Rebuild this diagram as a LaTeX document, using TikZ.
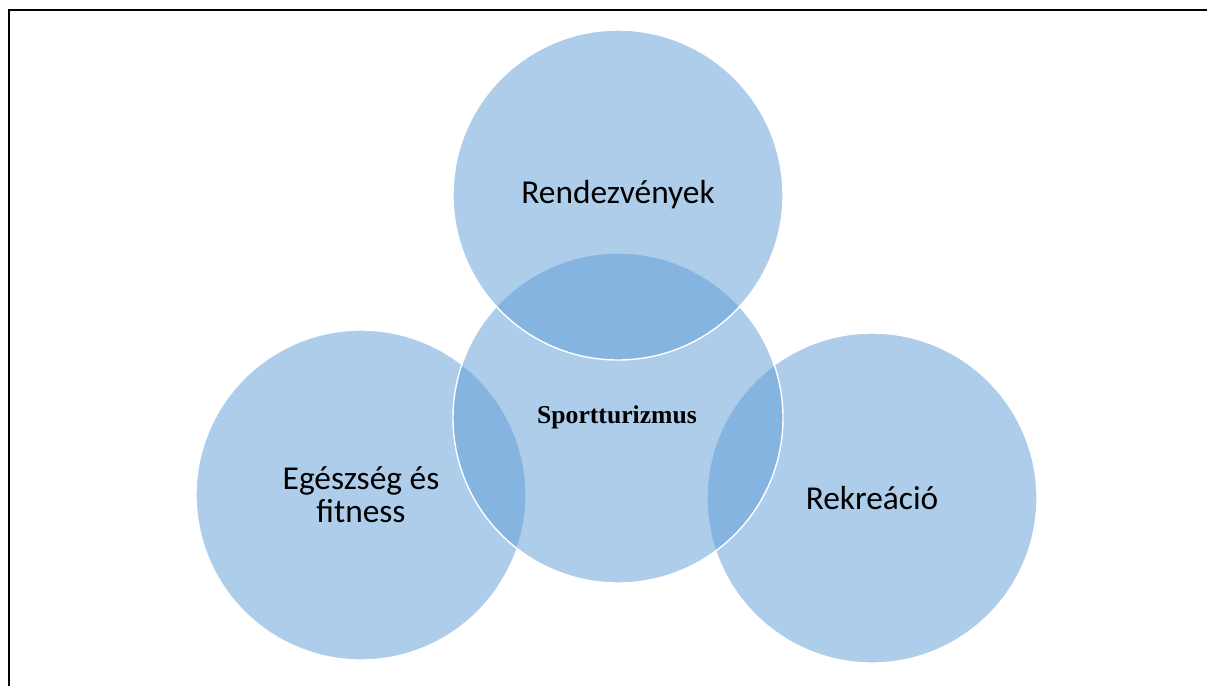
\documentclass[tikz,border=0pt]{standalone}
\usepackage{fontspec}
\setmainfont{Carlito}
\newfontfamily\titlefont{Liberation Serif}
\definecolor{sportblue}{RGB}{91,155,213}
\tikzset{
  area/.style={circle, minimum size=3.3cm, inner sep=0pt, fill=sportblue,
    fill opacity=0.5, text opacity=1, draw=white, line width=0.4pt,
    font=\fontsize{9.5}{9.3}\selectfont, align=center},
}
\begin{document}
\begin{tikzpicture}
  \useasboundingbox (0,0) rectangle (12.07,6.86);
  % frame, only the left and top edges show
  \draw[line width=0.6pt] (0.09,0) -- (0.09,6.76) -- (12.07,6.76);

  \node[area] (health) at (3.61,1.91) {Egészség és\\fitness};
  \node[area] (recreation) at (8.72,1.88) {Rekreáció};
  \node[area] (sport) at (6.18,2.68) {};
  \node[area] (events) at (6.18,4.91) {Rendezvények};
  \node[font={\titlefont\bfseries\fontsize{7.3}{9}\selectfont}] (title) at (6.17,2.69) {Sportturizmus};
\end{tikzpicture}
\end{document}
